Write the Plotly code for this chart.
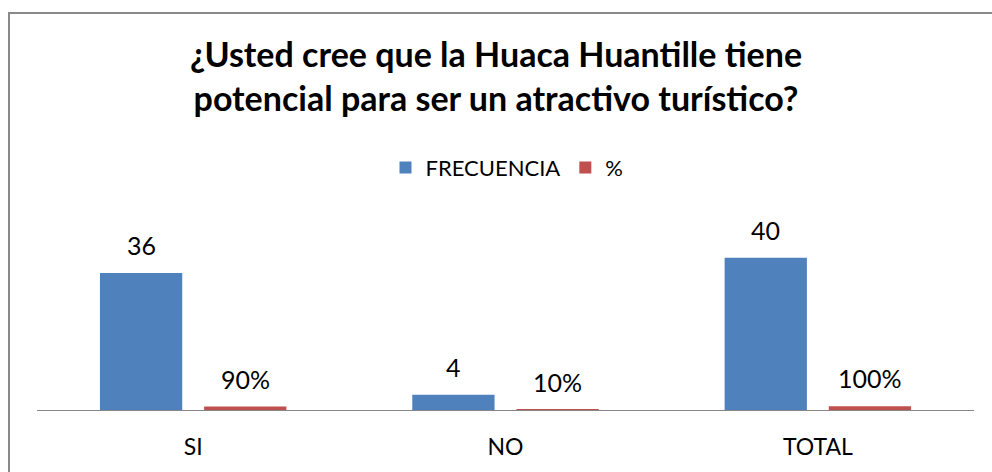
import plotly.graph_objects as go

categories = ["SI", "NO", "TOTAL"]
frecuencia = [36, 4, 40]
porcentaje = [0.90, 0.10, 1.00]
pct_labels = ["90%", "10%", "100%"]
title_text = "¿Usted cree que la Huaca Huantille tiene<br>potencial para ser un atractivo turístico?"

FONT = "Lato"
W, H = 992, 472
ml, mr, mt, mb = 37, 18, 235, 60
pw = W - ml - mr
ph = H - mt - mb

fig = go.Figure()
fig.add_trace(go.Bar(name="FRECUENCIA", x=categories, y=frecuencia,
                     marker=dict(color="#4F81BD", line=dict(width=0))))
fig.add_trace(go.Bar(name="%", x=categories, y=porcentaje,
                     marker=dict(color="#C0504D", line=dict(width=0))))

ann = []
for c, v in zip(categories, frecuencia):
    ann.append(dict(x=c, y=v, xref="x", yref="y", text=str(v), showarrow=False,
                    xshift=-52, yshift=11, yanchor="bottom",
                    font=dict(family=FONT, size=25, color="#000")))
for c, v, t in zip(categories, porcentaje, pct_labels):
    ann.append(dict(x=c, y=v, xref="x", yref="y", text=t, showarrow=False,
                    xshift=52, yshift=11, yanchor="bottom",
                    font=dict(family=FONT, size=25, color="#000")))

fig.update_layout(
    width=W, height=H,
    margin=dict(l=ml, r=mr, t=mt, b=mb, pad=0),
    paper_bgcolor="white", plot_bgcolor="white",
    barmode="group", bargap=0.333, bargroupgap=0.21,
    title=dict(text=title_text, x=0.5, xanchor="center", y=1 - 67 / H, yanchor="middle",
               font=dict(family=FONT, size=34, color="#000", weight="bold")),
    legend=dict(orientation="h", x=(507 - ml) / pw, xanchor="center",
                y=(412 - 167) / ph, yanchor="middle",
                font=dict(family=FONT, size=22, color="#000"), itemwidth=30),
    xaxis=dict(showline=True, linecolor="#868686", linewidth=1, ticks="",
               ticklabelstandoff=16,
               tickfont=dict(family=FONT, size=23, color="#000"), showgrid=False),
    yaxis=dict(range=[0, 46], visible=False, showgrid=False, zeroline=False),
    annotations=ann,
    shapes=[dict(type="rect", xref="paper", yref="paper",
                 x0=(9 - ml) / pw, x1=(1000 - ml) / pw,
                 y0=(412 - 480) / ph, y1=(412 - 10.5) / ph,
                 line=dict(color="#898989", width=2), fillcolor="rgba(0,0,0,0)", layer="below")],
)

fig.write_html("out.html", config={"displayModeBar": False},
               post_script="document.body.style.margin='0';")
